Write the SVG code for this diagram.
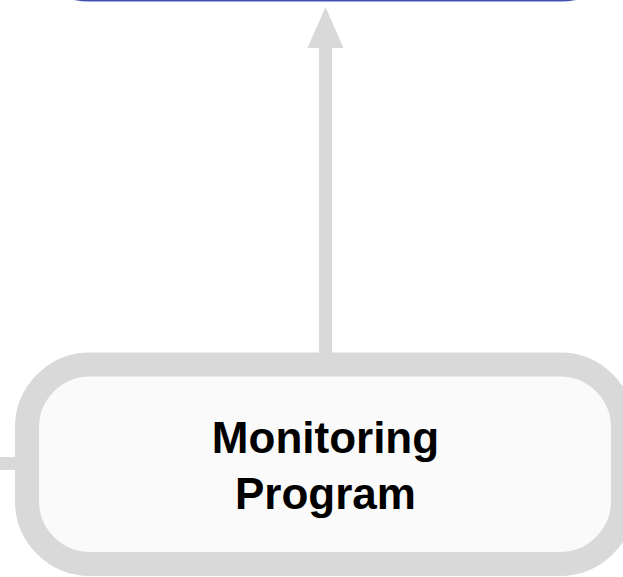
<svg xmlns="http://www.w3.org/2000/svg" width="623" height="577" viewBox="0 0 623 577">
<style>
.conn{stroke:#d9d9d9;stroke-width:13;fill:none}
.head{fill:#d9d9d9}
.lbl{font-family:"Liberation Sans",Arial,sans-serif;font-weight:bold;font-size:44px;fill:#000;text-anchor:middle}
</style>
<rect width="623" height="577" fill="#ffffff"/>
<g id="node-top">
<rect x="27" y="-100" width="596" height="100" rx="63" ry="63" fill="#ffffff" stroke="#3f51b5" stroke-width="3"/>
</g>
<g id="connectors">
<line class="conn" x1="325.5" y1="46" x2="325.5" y2="354"/>
<polygon class="head" points="325.5,7 343.5,48 307.5,48"/>
<line class="conn" x1="0" y1="463.5" x2="17" y2="463.5"/>
</g>
<g id="node-monitoring">
<rect x="27" y="364.5" width="596" height="199.5" rx="63" ry="63" fill="#fafafa" stroke="#d9d9d9" stroke-width="24"/>
<text class="lbl" x="325.5" y="453">Monitoring</text>
<text class="lbl" x="325.5" y="509">Program</text>
</g>
</svg>
